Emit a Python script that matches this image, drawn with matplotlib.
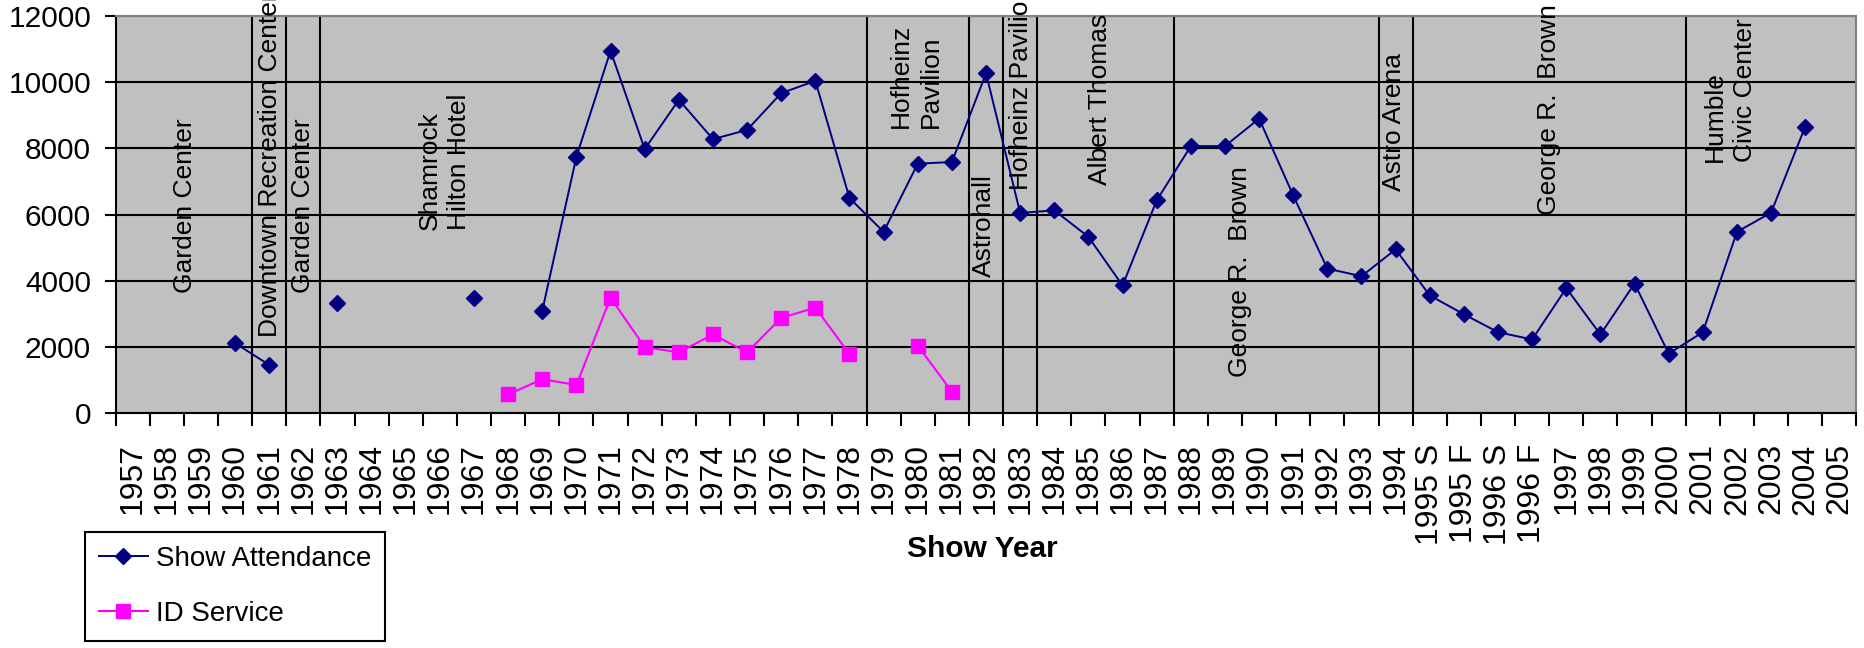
import numpy as np
import matplotlib
matplotlib.use("Agg")
import matplotlib.pyplot as plt

# --- data ---
CATEGORIES = [str(y) for y in range(1957, 1995)] + ['1995 S', '1995 F', '1996 S', '1996 F'] + \
             [str(y) for y in range(1997, 2006)]

SHOW_ATTENDANCE = [
    None, None, None, 2120, 1460, None, 3330, None, None, None,   # 1957-1966
    3470, None, 3100, 7750, 10950, 7980, 9470, 8280, 8560, 9670,  # 1967-1976
    10040, 6500, 5480, 7540, 7590, 10270, 6050, 6130, 5330, 3860,  # 1977-1986
    6430, 8070, 8070, 8900, 6580, 4370, 4140, 4950,               # 1987-1994
    3560, 2990, 2450, 2230,                                       # 1995 S - 1996 F
    3780, 2380, 3920, 1800, 2450, 5480, 6060, 8660, None,         # 1997-2005
]

ID_SERVICE = [None] * 11 + [
    570, 1030, 855, 3490, 2000, 1840, 2380, 1840, 2880, 3190,    # 1968-1977
    1790, None, 2040, 655,                                        # 1978-1981
] + [None] * 26

# first show year at a new venue (a vertical line goes before it)
VENUE_BREAKS = ['1961', '1962', '1963', '1979', '1982', '1983', '1984', '1988', '1994', '1995 S', '2001']

# venue captions, with where they sit (category position, bottom in data units)
VENUE_NAMES = ['Garden Center', 'Downtown Recreation Center', 'Garden Center', 'Shamrock\nHilton Hotel',
               'Hofheinz\nPavilion', 'Astrohall', 'Hofheinz Pavilion', 'Albert Thomas',
               'George R.  Brown', 'Astro Arena', 'George R.  Brown', 'Humble\nCivic Center']
VENUE_X = [1.52, 4.01, 5.0, 9.13, 22.95, 24.95, 26.03, 28.35, 32.43, 36.95, 41.48, 46.79]
VENUE_Y = [3620, 2310, 3620, 5540, 8610, 4130, 6740, 6900, 1110, 6700, 5990, 7600]

Y_TICKS = [0, 2000, 4000, 6000, 8000, 10000, 12000]

FONT = ['Liberation Sans', 'DejaVu Sans']
plt.rcParams['font.family'] = FONT

NAVY = '#000080'
MAGENTA = '#FF00FF'


def to_array(values):
    return np.array([np.nan if v is None else v for v in values], dtype=float)


def main():
    fig = plt.figure(figsize=(18.65, 6.48), dpi=100)
    ax = fig.add_axes([0.0620, 0.3622, 0.9334, 0.6131])
    ax.set_facecolor('#C0C0C0')

    x = np.arange(len(CATEGORIES))
    ax.plot(x, to_array(SHOW_ATTENDANCE), color=NAVY, lw=1.4, marker='D', ms=8,
            mfc=NAVY, mec=NAVY, mew=1, label='Show Attendance', zorder=4)
    ax.plot(x, to_array(ID_SERVICE), color=MAGENTA, lw=1.5, marker='s', ms=9.5,
            mfc=MAGENTA, mec=MAGENTA, mew=1, label='ID Service', zorder=4)

    # venue boundaries
    for b in VENUE_BREAKS:
        ax.axvline(CATEGORIES.index(b) - 0.5, color='black', lw=1.5, zorder=2)

    for name, vx, vy in zip(VENUE_NAMES, VENUE_X, VENUE_Y):
        ax.text(vx, vy, name, rotation=90, ha='center', va='bottom', multialignment='left',
                fontsize=19, color='black', zorder=3, linespacing=1.3)

    ax.set_xlim(-0.5, len(CATEGORIES) - 0.5)
    ax.set_ylim(0, 12000)

    # y axis
    ax.set_yticks(Y_TICKS)
    ax.set_yticklabels([str(v) for v in Y_TICKS], fontsize=21.5)
    ax.yaxis.grid(True, color='black', lw=1.5, zorder=1)
    ax.tick_params(axis='y', direction='out', length=7.7, width=1.5, pad=10, color='black')

    # x axis: tick marks between categories, labels in the middle
    ax.set_xticks(np.arange(-0.5, len(CATEGORIES), 1.0))
    ax.set_xticklabels([])
    ax.set_xticks(x, minor=True)
    ax.set_xticklabels(CATEGORIES, minor=True, rotation=90, fontsize=23)
    ax.tick_params(axis='x', which='major', direction='out', length=9.5, width=1.5, color='black')
    ax.tick_params(axis='x', which='minor', length=0, pad=21.6)
    ax.set_axisbelow(True)

    for side in ['left', 'bottom']:
        ax.spines[side].set_color('black')
        ax.spines[side].set_linewidth(1.5)
    for side in ['top', 'right']:
        ax.spines[side].set_color('#808080')
        ax.spines[side].set_linewidth(1.5)

    fig.text(0.5265, 0.1528, 'Show Year', ha='center', va='center', fontsize=21.5,
             fontweight='bold')

    leg = fig.legend(loc='upper left', bbox_to_anchor=(0.0456, 0.1790), borderaxespad=0,
                     prop={'size': 20}, frameon=True, fancybox=False,
                     framealpha=1, edgecolor='black', borderpad=0.5, handlelength=1.75,
                     handletextpad=0.3, labelspacing=1.05, numpoints=1)
    leg.get_frame().set_linewidth(1.5)

    fig.savefig('out.png', dpi=100)
    plt.close(fig)


if __name__ == '__main__':
    main()
